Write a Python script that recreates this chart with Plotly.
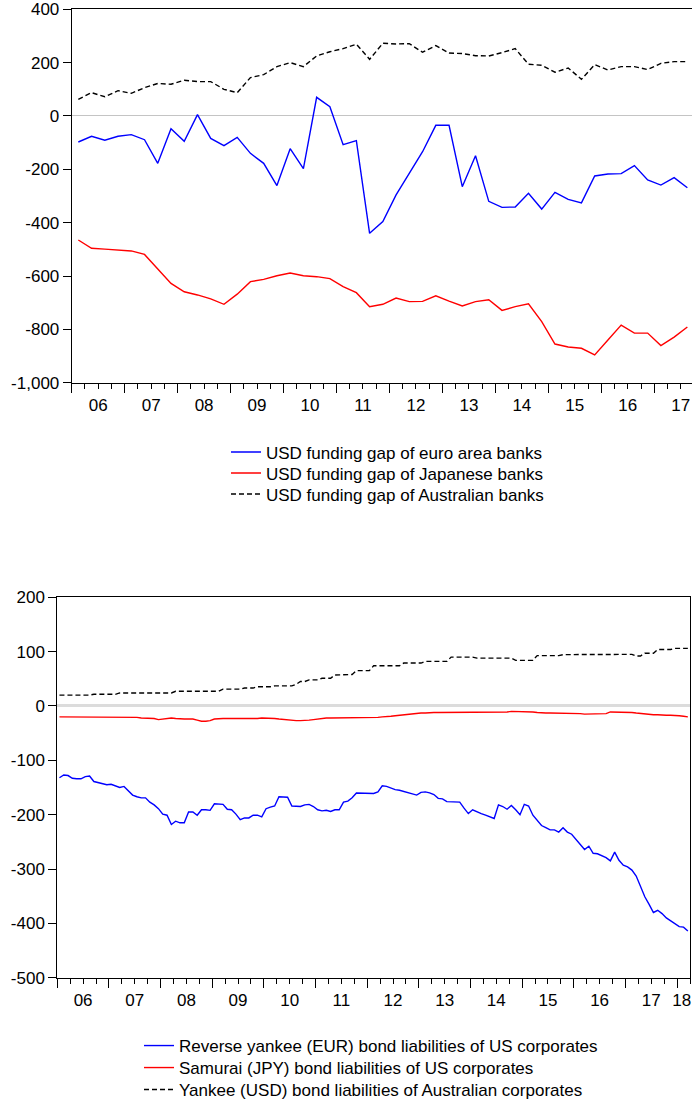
import plotly.graph_objects as go

W, H = 692, 1103

# ---------------- Top chart: quarterly, 2006Q1 - 2017Q3 ----------------
top_periods = [f"{y}Q{q}" for y in range(2006, 2018) for q in range(1, 5)][:47]

euro_area_gap = [-97.5, -76, -91, -76, -70, -89, -177.5, -47.5, -95, 5, -84, -111,
                 -80, -140, -177.5, -261, -122.5, -197.5, 70, 35, -107.5, -92.5, -440, -396,
                 -296, -215, -134, -35, -35, -265, -149, -320, -342.5, -341, -290, -349,
                 -286, -312.5, -326, -225, -217.5, -216, -186, -240, -259, -231, -269]
japan_gap = [-465, -496, -499, -502, -506, -519, -575, -627.5, -659, -671, -686, -706,
             -668, -621, -612.5, -599, -589, -599, -602.5, -610, -640, -662.5, -715, -706,
             -682.5, -696, -695, -674, -694, -712.5, -696, -689, -729, -715, -704, -771,
             -855, -866, -871, -896, -840, -784, -814, -814, -861, -829, -791]
australia_gap = [62.5, 87.5, 72, 95, 85, 106, 122, 119, 134, 129, 129, 100,
                 87.5, 144, 155, 185, 200, 185, 225, 241, 252.5, 269, 212.5, 272.5,
                 270, 271, 239, 264, 236, 234, 226, 225, 237.5, 252.5, 194, 190,
                 164, 180, 137.5, 192.5, 172.5, 185, 185, 174, 197.5, 204, 204]
top_year_labels = ["06", "07", "08", "09", "10", "11", "12", "13", "14", "15", "16", "17"]
top_y_ticks = [400, 200, 0, -200, -400, -600, -800, -1000]
top_y_ticktext = ["400", "200", "0", "-200", "-400", "-600", "-800", "-1,000"]

# ---------------- Bottom chart: monthly, 2006M01 - 2018M03 ----------------
bottom_periods = [f"{y}-{m:02d}" for y in range(2006, 2019) for m in range(1, 13)][:147]

reverse_yankee_eur = [
    -132, -127, -128, -133, -134, -134, -130, -129, -139, -141, -144, -145,
    -144, -147, -150, -148, -156, -164, -167, -169, -169, -177, -182, -189,
    -199, -201, -218, -212, -215, -215, -195, -195, -201, -191, -191, -192,
    -180, -181, -181, -190, -191, -199, -209, -206, -206, -201, -201, -204,
    -189, -186, -184, -167, -167, -168, -184, -185, -185, -182, -181, -185,
    -191, -193, -192, -194, -191, -191, -177, -175, -169, -160, -160, -160,
    -161, -161, -158, -147, -148, -151, -154, -155, -157, -160, -162, -164,
    -159, -158, -160, -163, -170, -171, -176, -176, -176, -177, -188, -198,
    -191, -195, -198, -201, -204, -207, -182, -185, -190, -183, -191, -200,
    -181, -184, -201, -210, -220, -224, -228, -228, -232, -224, -232, -236,
    -245, -255, -264, -258, -271, -272, -275, -279, -285, -269, -284, -293,
    -296, -302, -313, -332, -351, -365, -380, -376, -382, -390, -395, -400,
    -406, -407, -414]
samurai_jpy = [
    -20, -20, -21, -21, -20, -20, -20, -20, -21, -21, -21, -21,
    -21, -21, -21, -21, -21, -21, -21, -22, -22, -22, -23, -25,
    -24, -23, -22, -23, -24, -24, -24, -24, -26, -28, -28, -27,
    -24, -23, -23, -23, -23, -24, -24, -23, -23, -23, -23, -22,
    -22, -22, -23, -24, -25, -26, -27, -27, -27, -27, -26, -25,
    -24, -22, -22, -22, -22, -21, -22, -21, -21, -21, -21, -21,
    -21, -21, -21, -20, -20, -19, -18, -17, -16, -15, -14, -14,
    -13, -13, -12, -12, -12, -12, -11, -11, -11, -11, -11, -11,
    -12, -12, -12, -12, -12, -11, -11, -11, -11, -10, -10, -11,
    -11, -11, -11, -12, -13, -13, -13, -13, -13, -13, -13, -13,
    -14, -14, -15, -15, -15, -15, -15, -14, -11, -11, -11, -12,
    -12, -12, -13, -14, -15, -15, -16, -16, -17, -17, -17, -17,
    -18, -19, -20]
yankee_usd_aus = [
    20, 20, 20, 20, 20, 20, 20, 20, 21.5, 21.5, 21.5, 21.5,
    21.5, 21.5, 24, 24, 24, 24, 24, 24, 24, 24, 24, 24,
    24, 24, 24, 27, 27, 27, 27, 27, 27, 27, 27, 27,
    27, 27, 31, 31, 31, 31, 31, 33, 33, 33, 35.5, 35.5,
    35.5, 35.5, 37, 37, 37, 37, 37, 40, 45, 45, 48, 48,
    48, 51, 51, 51, 57, 57, 57, 57, 58, 65, 65, 65,
    65, 74, 74, 74, 74, 74, 74, 74, 79, 79, 79, 79,
    79, 82, 82, 82, 82, 82, 82, 90, 90, 90, 90, 90,
    90, 88, 88, 88, 88, 88, 88, 88, 88, 88, 84, 84,
    84, 84, 84, 92.7, 92.7, 92.7, 92.7, 92.7, 92.7, 94.5, 94.5, 94.5,
    94.5, 94.5, 94.5, 94.5, 94.5, 94.5, 94.5, 95, 95, 95, 95, 95,
    95, 95, 92, 92, 97, 97, 97, 104, 104, 104, 104, 106,
    106, 106, 106]
bottom_year_labels = ["06", "07", "08", "09", "10", "11", "12", "13", "14", "15",
                      "16", "17", "18"]
bottom_y_ticks = [200, 100, 0, -100, -200, -300, -400, -500]
bottom_y_ticktext = ["200", "100", "0", "-100", "-200", "-300", "-400", "-500"]

# ---------------- styling ----------------
FONT = "Liberation Sans, Arial, sans-serif"
TICKFONT = dict(family=FONT, size=17, color="black")
BLUE, RED, BLACK = "#0000ff", "#ff0000", "#000000"
LW = 1.4
DASH = "5px,3px"


def px_x(p):
    return p / W


def px_y(p):
    return 1 - p / H


fig = go.Figure()

nq = len(top_periods)
xq = list(range(nq))
# the dashed series is drawn on the overlaying x-axis (same range) that carries the year labels
top_series = [
    ("USD funding gap of euro area banks", euro_area_gap, BLUE, "solid", "legend", "x"),
    ("USD funding gap of Japanese banks", japan_gap, RED, "solid", "legend2", "x"),
    ("USD funding gap of Australian banks", australia_gap, BLACK, DASH, "legend3", "x3"),
]
for name, vals, col, dash, lg, xa in top_series:
    fig.add_trace(go.Scatter(x=xq, y=vals, customdata=top_periods, name=name,
                             mode="lines", line=dict(color=col, width=LW, dash=dash),
                             xaxis=xa, yaxis="y", legend=lg, showlegend=True))

nm = len(bottom_periods)
xm = list(range(nm))
bottom_series = [
    ("Reverse yankee (EUR) bond liabilities of US corporates", reverse_yankee_eur, BLUE, "solid", "legend4", "x2"),
    ("Samurai (JPY) bond liabilities of US corporates", samurai_jpy, RED, "solid", "legend5", "x2"),
    ("Yankee (USD) bond liabilities of Australian corporates", yankee_usd_aus, BLACK, DASH, "legend6", "x4"),
]
for name, vals, col, dash, lg, xa in bottom_series:
    fig.add_trace(go.Scatter(x=xm, y=vals, customdata=bottom_periods, name=name,
                             mode="lines", line=dict(color=col, width=LW, dash=dash),
                             xaxis=xa, yaxis="y2", legend=lg, showlegend=True))

# tick positions derived from period counts
top_year_bounds = [k - 0.5 for k in range(0, 4 * len(top_year_labels) + 1, 4)]
top_q_bounds = [k - 0.5 for k in range(0, 4 * len(top_year_labels) + 1)]
top_label_pos = [4 * k + 1.5 for k in range(len(top_year_labels))]

bot_year_bounds = [k - 0.5 for k in range(0, 12 * len(bottom_year_labels) + 1, 12)]
bot_q_bounds = [k - 0.5 for k in range(0, 12 * len(bottom_year_labels) + 1, 3)]
bot_label_pos = [12 * k + 5.5 for k in range(len(bottom_year_labels) - 1)] + [nm - 2.4]

top_xrange = [-0.5, 46.35]
bot_xrange = [-0.5, nm - 0.5]

top_dom_x = [px_x(71.7), 1.0]
top_dom_y = [px_y(382.7), px_y(9.3)]
bot_dom_x = [px_x(57.3), px_x(690)]
bot_dom_y = [px_y(977.7), px_y(597.3)]

common_line = dict(showline=True, linecolor="black", linewidth=1, showgrid=False,
                   automargin=False)

fig.update_layout(
    width=W, height=H,
    margin=dict(l=0, r=0, t=0, b=0, autoexpand=False),
    paper_bgcolor="white", plot_bgcolor="white",
    showlegend=True,
    font=dict(family=FONT, size=17, color="black"),
    xaxis=dict(domain=top_dom_x, range=top_xrange, anchor="y", mirror=True,
               zeroline=False, tickmode="array", tickvals=top_year_bounds,
               ticks="outside", ticklen=9, tickcolor="black", showticklabels=False,
               minor=dict(tickmode="array", tickvals=top_q_bounds, ticks="outside",
                          ticklen=5, tickcolor="black", showgrid=False),
               **common_line),
    xaxis3=dict(overlaying="x", anchor="y", side="bottom", range=top_xrange,
                tickmode="array", tickvals=top_label_pos, ticktext=top_year_labels,
                ticks="outside", ticklen=7, tickcolor="rgba(0,0,0,0)",
                showline=False, showgrid=False, zeroline=False, tickfont=TICKFONT,
                automargin=False, ticklabeloverflow="allow"),
    yaxis=dict(domain=top_dom_y, range=[-1000, 400], anchor="x",
               tickmode="array", tickvals=top_y_ticks, ticktext=top_y_ticktext,
               ticks="outside", ticklen=8, tickcolor="black", tickfont=TICKFONT,
               zeroline=True, zerolinecolor="#c4c4c4", zerolinewidth=1,
               **common_line),
    xaxis2=dict(domain=bot_dom_x, range=bot_xrange, anchor="y2", mirror=True,
                zeroline=False, tickmode="array", tickvals=bot_year_bounds,
                ticks="outside", ticklen=9, tickcolor="black", showticklabels=False,
                minor=dict(tickmode="array", tickvals=bot_q_bounds, ticks="outside",
                           ticklen=5, tickcolor="black", showgrid=False),
                **common_line),
    xaxis4=dict(overlaying="x2", anchor="y2", side="bottom", range=bot_xrange,
                tickmode="array", tickvals=bot_label_pos, ticktext=bottom_year_labels,
                ticks="outside", ticklen=7, tickcolor="rgba(0,0,0,0)",
                showline=False, showgrid=False, zeroline=False, tickfont=TICKFONT,
                automargin=False, ticklabeloverflow="allow"),
    yaxis2=dict(domain=bot_dom_y, range=[-500, 200], anchor="x2", mirror=True,
                tickmode="array", tickvals=bottom_y_ticks, ticktext=bottom_y_ticktext,
                ticks="outside", ticklen=8, tickcolor="black", tickfont=TICKFONT,
                zeroline=True, zerolinecolor="#dcdcdc", zerolinewidth=2.5,
                **common_line),
)

legend_rows = {
    "legend": (226, 452.5), "legend2": (226, 473.5), "legend3": (226, 494.5),
    "legend4": (139, 1046), "legend5": (139, 1068), "legend6": (139, 1090),
}
for key, (lx, ly) in legend_rows.items():
    fig.update_layout({key: dict(x=px_x(lx), y=px_y(ly), xanchor="left", yanchor="middle",
                                 xref="paper", yref="paper", bgcolor="rgba(0,0,0,0)",
                                 borderwidth=0, font=dict(family=FONT, size=17, color="black"),
                                 itemwidth=30)})

fig.write_html(
    "out.html",
    config={"displayModeBar": False},
    post_script="document.body.style.margin='0px';document.body.style.overflow='hidden';",
)
